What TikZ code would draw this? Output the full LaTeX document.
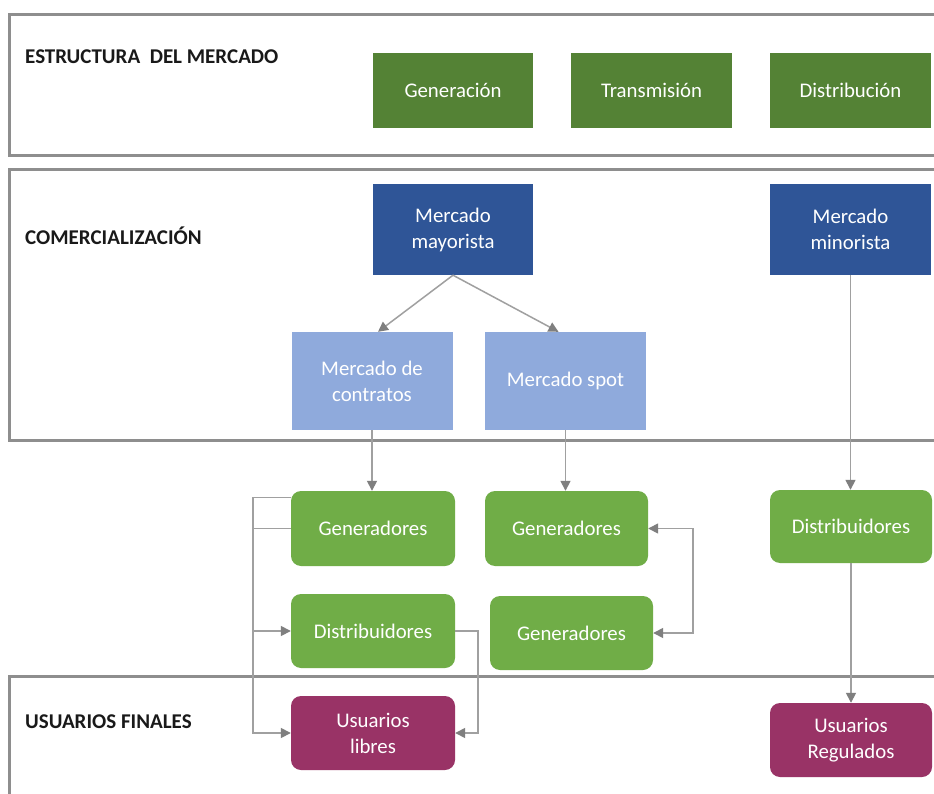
\documentclass[tikz,border=0pt]{standalone}
\usepackage{fontspec}
\setmainfont{Carlito}
\usetikzlibrary{arrows.meta}
\definecolor{dkgreen}{HTML}{548235}
\definecolor{dkblue}{HTML}{2F5597}
\definecolor{ltblue}{HTML}{8FAADC}
\definecolor{ltgreen}{HTML}{70AD47}
\definecolor{plum}{HTML}{993366}
\definecolor{framegray}{HTML}{8E8E8E}
\definecolor{linegray}{HTML}{A0A0A0}
\definecolor{tipgray}{HTML}{7F7F7F}
\begin{document}
\begin{tikzpicture}[x=1pt,y=-1pt,
  font=\fontsize{20.8}{26}\selectfont,
  panel/.style={draw=framegray,line width=3pt},
  sq/.style={rectangle,text=white,align=center,inner sep=0pt},
  rbox/.style={rectangle,rounded corners=10pt,text=white,align=center,inner sep=0pt},
  ttl/.style={anchor=west,inner sep=0pt,font=\fontsize{21}{24}\selectfont\bfseries,text=black!90},
  conn/.style={draw=linegray,line width=1.5pt,-{Triangle[length=10pt,width=10pt,color=tipgray]}},
  plain/.style={draw=linegray,line width=1.5pt}
]
\path[use as bounding box,clip] (0,0) rectangle (934,794);
\fill[white] (0,0) rectangle (934,794);
% panels
\draw[panel] (9,15) rectangle (950,156);
\draw[panel] (9,170) rectangle (950,440);
\draw[panel] (950,676) -- (9,676) -- (9,810);
% titles
\node[ttl] (t1) at (25,57) {ESTRUCTURA\ \ DEL MERCADO};
\node[ttl] (t2) at (25,236) {COMERCIALIZACIÓN};
\node[ttl] (t3) at (25,722) {USUARIOS FINALES};
% structure
\node[sq,fill=dkgreen,minimum width=160pt,minimum height=75pt] (gen) at (453,90.5) {Generación};
\node[sq,fill=dkgreen,minimum width=161pt,minimum height=75pt] (tra) at (651.5,90.5) {Transmisión};
\node[sq,fill=dkgreen,minimum width=161pt,minimum height=75pt] (dis) at (850.5,90.5) {Distribución};
% comercializacion
\node[sq,fill=dkblue,minimum width=160pt,minimum height=91pt] (may) at (453,229.5) {Mercado\\mayorista};
\node[sq,fill=dkblue,minimum width=161pt,minimum height=91pt] (min) at (850.5,229.5) {Mercado\\minorista};
\node[sq,fill=ltblue,minimum width=161pt,minimum height=98pt] (con) at (372,381) {Mercado de\\contratos};
\node[sq,fill=ltblue,minimum width=161pt,minimum height=98pt] (spo) at (565.5,381) {Mercado spot};
% agents
\node[rbox,fill=ltgreen,minimum width=164pt,minimum height=75pt] (g1) at (373,528.5) {Generadores};
\node[rbox,fill=ltgreen,minimum width=163pt,minimum height=75pt] (g2) at (566.5,528.5) {Generadores};
\node[rbox,fill=ltgreen,minimum width=164pt,minimum height=74pt] (dl) at (373,631) {Distribuidores};
\node[rbox,fill=ltgreen,minimum width=163pt,minimum height=74pt] (g3) at (571.5,633) {Generadores};
\node[rbox,fill=ltgreen,minimum width=162pt,minimum height=73pt] (dr) at (851,526.5) {Distribuidores};
\node[rbox,fill=plum,minimum width=164pt,minimum height=74pt] (ul) at (373,733) {Usuarios\\libres};
\node[rbox,fill=plum,minimum width=162pt,minimum height=74pt] (ur) at (851,740) {Usuarios\\Regulados};
% helper coordinates
\coordinate (lx) at (253,600);
\coordinate (rx) at (478,680);
% connectors
\draw[conn] (may.south) -- ([xshift=6pt]con.north);
\draw[conn] (may.south) -- ([xshift=-7pt]spo.north);
\draw[conn] (con.south) -- (con.south |- g1.north);
\draw[conn] (spo.south) -- (spo.south |- g2.north);
\draw[conn] (min.south) -- (min.south |- dr.north);
\draw[conn] (dr.south) -- (dr.south |- ur.north);
\draw[plain] ([yshift=31pt]g1.west) -| (lx);
\draw[plain] (g1.west) -- (g1.west -| lx);
\draw[conn] ([yshift=31pt]g1.west -| lx) |- (ul.west);
\draw[conn] (dl.west -| lx) -- (dl.west);
\draw[conn] (dl.east) -| (rx) |- (ul.east);
\draw[draw=linegray,line width=1.5pt,{Triangle[length=10pt,width=10pt,color=tipgray]}-{Triangle[length=10pt,width=10pt,color=tipgray]}] (g2.east) -- ++(45,0) |- (g3.east);
\end{tikzpicture}
\end{document}
